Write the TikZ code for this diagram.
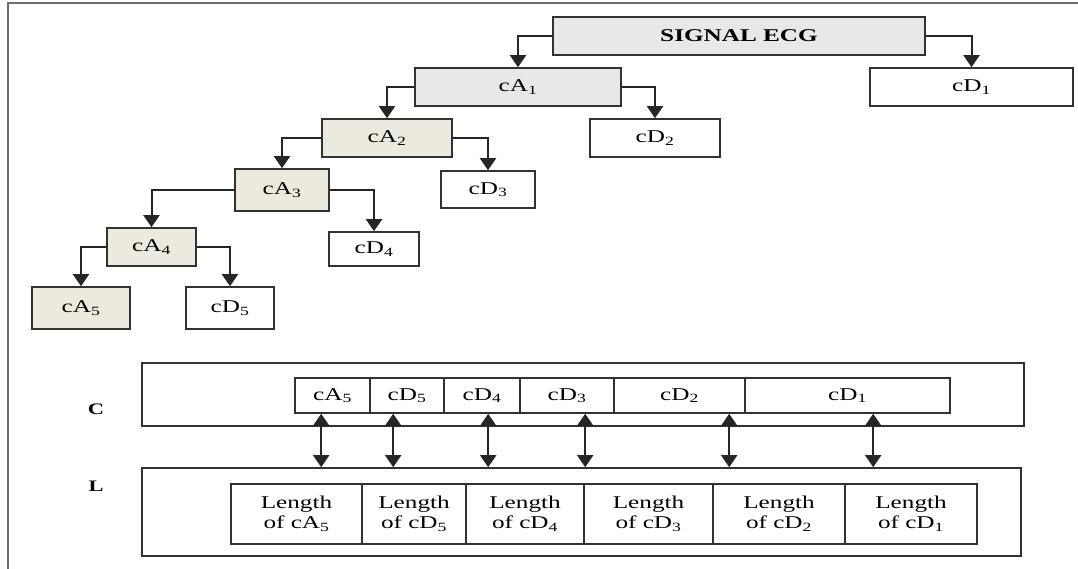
\documentclass[tikz,border=0pt]{standalone}
\usepackage{fontspec}
\setmainfont{Liberation Serif}[FakeStretch=1.4]
\usetikzlibrary{arrows.meta,calc}
\definecolor{boxgray}{RGB}{232,232,232}
\definecolor{boxbeige}{RGB}{236,234,222}
\definecolor{edgecol}{RGB}{50,50,50}
\definecolor{framecol}{RGB}{110,110,110}

\begin{document}
\begin{tikzpicture}[x=1pt,y=-1pt,
  every node/.style={font=\fontsize{18}{20}\selectfont},
  cell/.style={draw=edgecol, line width=1.6pt, fill=white, inner sep=0pt, align=center},
  graybox/.style={cell, fill=boxgray},
  beigebox/.style={cell, fill=boxbeige},
  outerbox/.style={draw=edgecol, line width=1.6pt, fill=white, inner sep=0pt},
  tip/.tip={Triangle[width=16pt,length=12pt]},
  arr/.style={draw=black!85, line width=2pt, -tip},
  darr/.style={draw=black!85, line width=2pt, tip-tip},
  tag/.style={font=\bfseries\fontsize{16}{18}\selectfont}
]
\useasboundingbox (0,0) rectangle (1078,569);

% page frame
\draw[framecol, line width=1.8pt] (8,569) -- (8,3) -- (1078,3);

% decomposition tree
\node[graybox, minimum width=372pt, minimum height=38pt] (sig) at (739,36) {\textbf{SIGNAL ECG}};
\node[cell, minimum width=203pt, minimum height=38pt] (d1) at (971.5,87) {cD\textsubscript{1}};
\node[graybox, minimum width=206pt, minimum height=38pt] (a1) at (518,87) {cA\textsubscript{1}};
\node[cell, minimum width=130pt, minimum height=38pt] (d2) at (655,138) {cD\textsubscript{2}};
\node[beigebox, minimum width=130pt, minimum height=38pt] (a2) at (387,138) {cA\textsubscript{2}};
\node[cell, minimum width=94pt, minimum height=37pt] (d3) at (488,189.5) {cD\textsubscript{3}};
\node[beigebox, minimum width=94pt, minimum height=42pt] (a3) at (282,190) {cA\textsubscript{3}};
\node[cell, minimum width=90pt, minimum height=34pt] (d4) at (374,249) {cD\textsubscript{4}};
\node[beigebox, minimum width=89pt, minimum height=38pt] (a4) at (151.5,247) {cA\textsubscript{4}};
\node[beigebox, minimum width=98pt, minimum height=42pt] (a5) at (81,308) {cA\textsubscript{5}};
\node[cell, minimum width=88pt, minimum height=42pt] (d5) at (230,308) {cD\textsubscript{5}};

\draw[arr] (sig.west) -| (a1.north);
\draw[arr] (sig.east) -| (d1.north);
\draw[arr] (a1.west) -| (a2.north);
\draw[arr] (a1.east) -| (d2.north);
\draw[arr] (a2.west) -| (a3.north);
\draw[arr] (a2.east) -| (d3.north);
\draw[arr] (a3.west) -| (a4.north);
\draw[arr] (a3.east) -| (d4.north);
\draw[arr] (a4.west) -| (a5.north);
\draw[arr] (a4.east) -| (d5.north);

% coefficient vector C and length vector L
\node[outerbox, minimum width=882pt, minimum height=63pt] (cbox) at (583,394.5) {};
\node[outerbox, minimum width=879pt, minimum height=88pt] (lbox) at (581.5,512) {};
\node[tag] (ctag) at (96,409) {C};
\node[tag] (ltag) at (96,486) {L};

\node[cell, minimum width=75pt, minimum height=35pt] (ca5) at (332.5,395.5) {cA\textsubscript{5}};
\node[cell, minimum width=74pt, minimum height=35pt] (cd5) at (407,395.5) {cD\textsubscript{5}};
\node[cell, minimum width=76pt, minimum height=35pt] (cd4) at (482,395.5) {cD\textsubscript{4}};
\node[cell, minimum width=94pt, minimum height=35pt] (cd3) at (567,395.5) {cD\textsubscript{3}};
\node[cell, minimum width=131pt, minimum height=35pt] (cd2) at (679.5,395.5) {cD\textsubscript{2}};
\node[cell, minimum width=205pt, minimum height=35pt] (cd1) at (847.5,395.5) {cD\textsubscript{1}};

\node[cell, minimum width=131pt, minimum height=60pt] (la5) at (296.5,514) {Length\\of cA\textsubscript{5}};
\node[cell, minimum width=104pt, minimum height=60pt] (ld5) at (414,514) {Length\\of cD\textsubscript{5}};
\node[cell, minimum width=118pt, minimum height=60pt] (ld4) at (525,514) {Length\\of cD\textsubscript{4}};
\node[cell, minimum width=129pt, minimum height=60pt] (ld3) at (648.5,514) {Length\\of cD\textsubscript{3}};
\node[cell, minimum width=132pt, minimum height=60pt] (ld2) at (779,514) {Length\\of cD\textsubscript{2}};
\node[cell, minimum width=132pt, minimum height=60pt] (ld1) at (911,514) {Length\\of cD\textsubscript{1}};

% links between each coefficient block and its length entry
\coordinate (p1) at ($(ca5.south west)+(27,0)$);
\coordinate (p2) at ($(cd5.south west)+(24,0)$);
\coordinate (p3) at ($(cd4.south west)+(45,0)$);
\coordinate (p4) at ($(cd3.south west)+(66,0)$);
\coordinate (p5) at ($(cd2.south west)+(116,0)$);
\coordinate (p6) at ($(cd1.south west)+(129,0)$);
\foreach \p in {p1,p2,p3,p4,p5,p6}
  \draw[darr] (\p) -- (\p |- lbox.north);
\end{tikzpicture}
\end{document}
